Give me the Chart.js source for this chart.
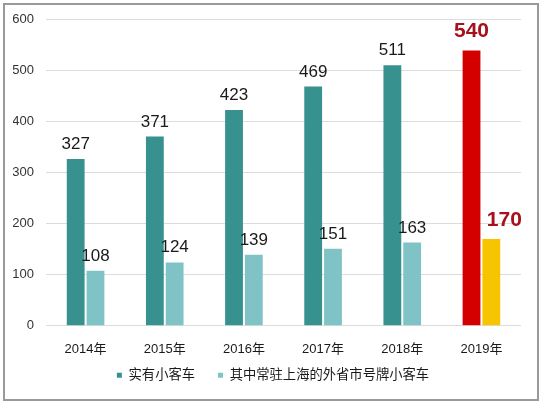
<!DOCTYPE html>
<html>
<head>
<meta charset="utf-8">
<script src="https://cdn.jsdelivr.net/npm/chart.js@4/dist/chart.umd.min.js"></script>
<style>
  html, body { margin: 0; padding: 0; background: #fff; }
  #wrap { position: relative; width: 543px; height: 405px; }
  #frame { position: absolute; left: 3px; top: 3px; width: 532px; height: 394px;
           border: 2px solid #9a9a9a; pointer-events: none; }
</style>
</head>
<body>
<div id="wrap">
  <canvas id="carChart" width="543" height="405"></canvas>
  <div id="frame"></div>
</div>
<script>
// data (万辆)
const years = ['2014年', '2015年', '2016年', '2017年', '2018年', '2019年'];
const totalCars = [327, 371, 423, 469, 511, 540];
const outOfProvinceCars = [108, 124, 139, 151, 163, 170];
const yTicks = [0, 100, 200, 300, 400, 500, 600];

const FONT = '"Liberation Sans", "Noto Sans CJK SC", Arial, sans-serif';
const teal = '#36918f';
const lightTeal = '#7fc3c7';
const red = '#d40000';
const yellow = '#f7c500';
const lastIdx = years.length - 1;

// value labels above bars, last year highlighted
const valueLabels = {
  id: 'valueLabels',
  afterDatasetsDraw(chart) {
    const ctx = chart.ctx;
    ctx.save();
    ctx.textAlign = 'center';
    ctx.textBaseline = 'alphabetic';
    chart.data.datasets.forEach((ds, di) => {
      const meta = chart.getDatasetMeta(di);
      meta.data.forEach((bar, i) => {
        const highlight = i === lastIdx;
        if (highlight) {
          ctx.font = 'bold 21px ' + FONT;
          ctx.fillStyle = '#a8101c';
        } else {
          ctx.font = '17px ' + FONT;
          ctx.fillStyle = '#1a1a1a';
        }
        const dx = highlight && di === 1 ? 13 : 0;
        const dy = highlight ? 13 : 10;
        ctx.fillText(ds.data[i], bar.x + dx, bar.y - dy);
      });
    });
    ctx.restore();
  }
};

// pull the legend a little closer to the year labels
const legendNudge = {
  id: 'legendNudge',
  afterLayout(chart) {
    const lg = chart.legend;
    if (!lg) return;
    lg.top -= 11;
    lg.bottom -= 11;
    lg.left += 6;
    lg.right += 6;
  }
};

const ctx = document.getElementById('carChart').getContext('2d');
new Chart(ctx, {
  type: 'bar',
  data: {
    labels: years,
    datasets: [{
      label: '实有小客车',
      data: totalCars,
      backgroundColor: (c) => c.dataIndex === lastIdx ? red : teal,
      categoryPercentage: 0.5,
      barPercentage: 0.9
    }, {
      label: '其中常驻上海的外省市号牌小客车',
      data: outOfProvinceCars,
      backgroundColor: (c) => c.dataIndex === lastIdx ? yellow : lightTeal,
      categoryPercentage: 0.5,
      barPercentage: 0.9
    }]
  },
  options: {
    responsive: false,
    animation: false,
    devicePixelRatio: 1,
    layout: { padding: { left: 13, right: 22, top: 19, bottom: 2 } },
    plugins: {
      tooltip: { enabled: false },
      legend: {
        position: 'bottom',
        labels: {
          boxWidth: 5,
          boxHeight: 5,
          padding: 23,
          color: '#1a1a1a',
          font: { family: FONT, size: 13.3 }
        }
      }
    },
    scales: {
      x: {
        afterFit: (s) => { s.height = 31; },
        grid: { display: false, drawTicks: false },
        border: { display: false },
        ticks: { color: '#1a1a1a', padding: 16, font: { family: FONT, size: 13 } }
      },
      y: {
        min: 0,
        max: 600,
        afterFit: (s) => { s.width = 33; },
        afterBuildTicks: (s) => { s.ticks = yTicks.map(v => ({ value: v })); },
        grid: { color: '#dcdcdc', drawTicks: false },
        border: { display: false },
        ticks: { color: '#333', padding: 12, font: { family: FONT, size: 13 } }
      }
    }
  },
  plugins: [valueLabels, legendNudge]
});
</script>
</body>
</html>
